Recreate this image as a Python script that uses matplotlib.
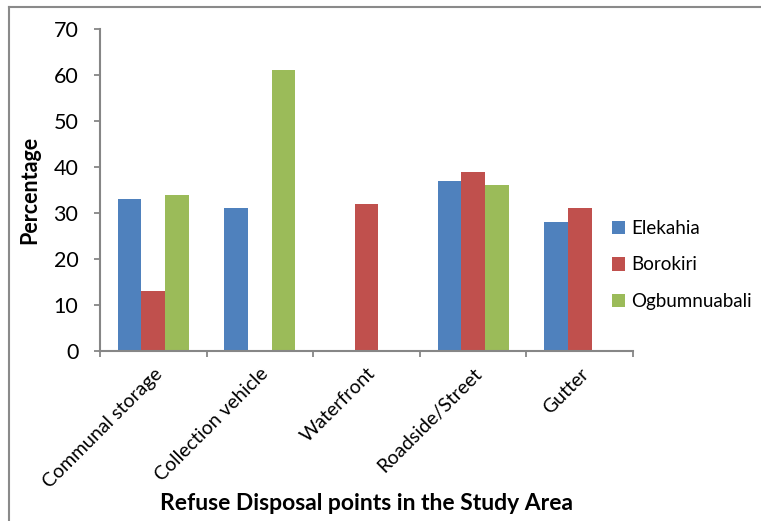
import matplotlib
matplotlib.use("Agg")
import matplotlib.pyplot as plt
from matplotlib.lines import Line2D
import numpy as np

categories = ["Communal storage", "Collection vehicle", "Waterfront", "Roadside/Street", "Gutter"]
series_names = ["Elekahia", "Borokiri", "Ogbumnuabali"]
elekahia = [33, 31, 0, 37, 28]
borokiri = [13, 0, 32, 39, 31]
ogbumnuabali = [34, 61, 0, 36, 0]
colors = ["#4F81BD", "#C0504D", "#9BBB59"]
yticks = [0, 10, 20, 30, 40, 50, 60, 70]

plt.rcParams["font.family"] = ["Lato", "DejaVu Sans"]

fig = plt.figure(figsize=(7.61, 5.21), dpi=100)
ax = fig.add_axes([100 / 761, 1 - 351 / 521, 533 / 761, 322 / 521])

x = np.arange(len(categories))
bw = 1 / 4.5
for i, (vals, name, c) in enumerate(zip([elekahia, borokiri, ogbumnuabali], series_names, colors)):
    ax.bar(x + (i - 1) * bw, vals, width=bw, color=c, label=name, zorder=2)

ax.set_xlim(-0.5, len(categories) - 0.5)
ax.set_ylim(0, 70)
ax.set_yticks(yticks)
ax.set_xticks(np.arange(len(categories) + 1) - 0.5, minor=False)
ax.set_xticklabels([])
ax.set_xticks(x, minor=True)
ax.set_xticklabels(categories, minor=True, rotation=45, ha="right", va="top",
                   rotation_mode="anchor", fontsize=14)
ax.tick_params(axis="x", which="minor", length=0, pad=10)
ax.tick_params(axis="x", which="major", direction="out", length=4.5, width=1.3, color="#868686")
ax.tick_params(axis="y", direction="out", length=4.5, width=1.3, color="#868686",
               labelsize=15.5, pad=11)

for s in ["top", "right"]:
    ax.spines[s].set_visible(False)
for s in ["left", "bottom"]:
    ax.spines[s].set_color("#868686")
    ax.spines[s].set_linewidth(1.5)

ax.set_ylabel("Percentage", fontsize=15.5, fontweight="bold")
ax.yaxis.set_label_coords(-0.113, 0.5)
fig.text(366 / 761, 1 - 503 / 521, "Refuse Disposal points in the Study Area",
         ha="center", va="center", fontsize=16.5, fontweight="bold")

leg = fig.legend(loc="center left", bbox_to_anchor=(595 / 761, 1 - 265 / 521),
                 frameon=False, fontsize=13.5, handlelength=0.7, handleheight=0.7,
                 handletextpad=0.35, labelspacing=1.05)

# outer chart frame (top and left edges)
fig.add_artist(Line2D([9 / 761, 1], [1 - 7 / 521, 1 - 7 / 521], color="#8a8a8a", lw=1.5,
                      transform=fig.transFigure))
fig.add_artist(Line2D([9 / 761, 9 / 761], [0, 1 - 7 / 521], color="#8a8a8a", lw=1.5,
                      transform=fig.transFigure))

fig.savefig("out.png", dpi=100, facecolor="white")
